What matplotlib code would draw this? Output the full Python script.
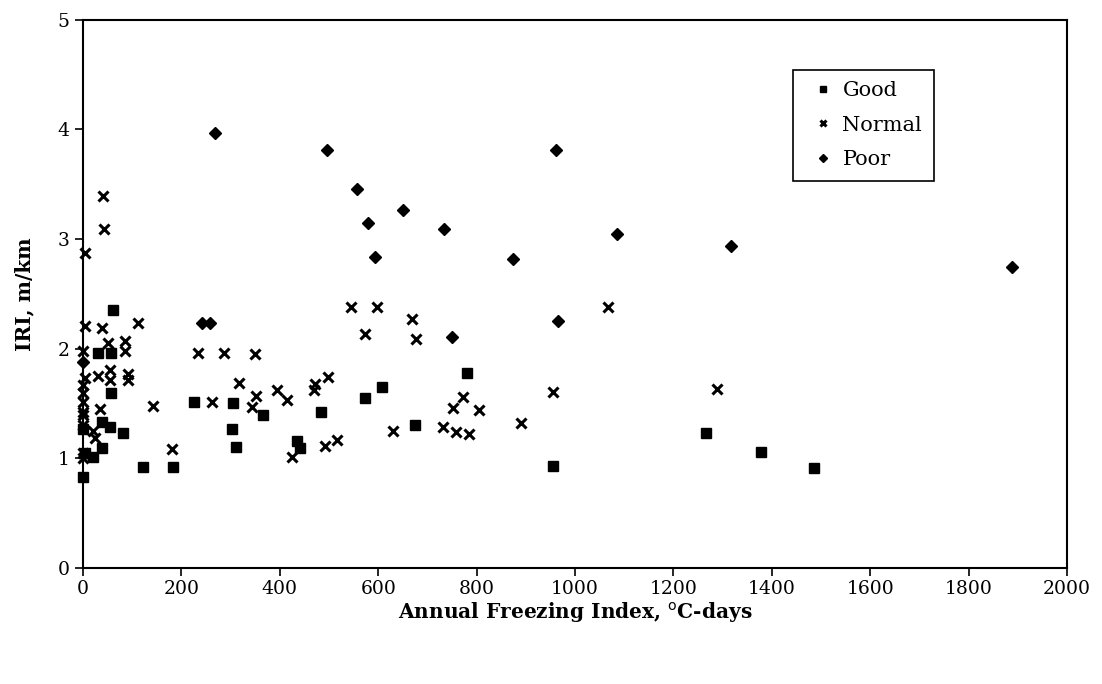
import matplotlib.pyplot as plt

plt.rcParams['font.family'] = ['DejaVu Serif']

good_x = [0, 0, 4, 20, 38, 38, 55, 57, 57, 61, 31, 82, 122, 183, 226, 303, 305, 311,
          366, 435, 441, 484, 573, 608, 675, 780, 956, 1266, 1378, 1486]
good_y = [0.83, 1.27, 1.05, 1.01, 1.33, 1.09, 1.28, 1.96, 1.59, 2.35, 1.96, 1.23, 0.92,
          0.92, 1.51, 1.27, 1.50, 1.10, 1.39, 1.16, 1.09, 1.42, 1.55, 1.65, 1.30, 1.78,
          0.93, 1.23, 1.06, 0.91]

normal_x = [41, 43, 4, 4, 39, 112, 51, 85, 85, 0, 4, 30, 55, 55, 91, 91, 0, 0, 0, 35, 0,
            0, 20, 24, 0, 181, 142, 234, 287, 350, 317, 262, 351, 343, 394, 414, 472, 470,
            498, 425, 492, 516, 545, 597, 573, 630, 669, 677, 1067, 956, 890, 732, 758,
            785, 752, 772, 805, 1289, 0, 0]
normal_y = [3.39, 3.09, 2.87, 2.21, 2.19, 2.23, 2.05, 2.07, 1.98, 1.98, 1.73, 1.75, 1.80,
            1.71, 1.77, 1.71, 1.67, 1.59, 1.51, 1.45, 1.42, 1.39, 1.25, 1.18, 1.00, 1.08,
            1.48, 1.96, 1.96, 1.95, 1.69, 1.51, 1.57, 1.47, 1.62, 1.53, 1.68, 1.62, 1.74,
            1.01, 1.11, 1.17, 2.38, 2.38, 2.13, 1.25, 2.27, 2.09, 2.38, 1.60, 1.32, 1.28,
            1.24, 1.22, 1.46, 1.56, 1.44, 1.63, 1.30, 1.05]

poor_x = [0, 242, 258, 268, 496, 557, 579, 593, 650, 734, 750, 874, 961, 965, 1085, 1317, 1888]
poor_y = [1.88, 2.23, 2.23, 3.97, 3.81, 3.46, 3.15, 2.84, 3.26, 3.09, 2.11, 2.82, 3.81,
          2.25, 3.05, 2.94, 2.74]

fig = plt.figure(figsize=(11.02, 6.84), dpi=100)
ax = fig.add_axes([0.0753, 0.170, 0.893, 0.801])

ax.plot(good_x, good_y, 's', color='black', markersize=7, label='Good', clip_on=False)
ax.plot(normal_x, normal_y, 'x', color='black', markersize=7, markeredgewidth=2.2,
        label='Normal', clip_on=False)
ax.plot(poor_x, poor_y, 'D', color='black', markersize=6.5, label='Poor', clip_on=False)

ax.set_xlim(0, 2000)
ax.set_ylim(0, 5)
ax.set_xticks(range(0, 2001, 200))
ax.set_yticks(range(0, 6))
ax.tick_params(axis='both', labelsize=13.5, direction='out', length=6, width=1.2)
ax.tick_params(axis='x', pad=3)
for s in ax.spines.values():
    s.set_linewidth(1.5)

ax.set_xlabel('Annual Freezing Index, $^{\\mathrm{o}}$C-days', fontsize=14.5,
              fontweight='bold', labelpad=1)
ax.set_ylabel('IRI, m/km', fontsize=14.5, fontweight='bold', labelpad=17)

leg = ax.legend(loc='upper left', bbox_to_anchor=(0.722, 0.909), fontsize=15,
                markerscale=0.6, handlelength=1.7, handletextpad=0.1,
                borderpad=0.55, labelspacing=0.75, fancybox=False, framealpha=1,
                edgecolor='black', borderaxespad=0)
leg.get_frame().set_linewidth(1.2)

plt.savefig('out.png')
